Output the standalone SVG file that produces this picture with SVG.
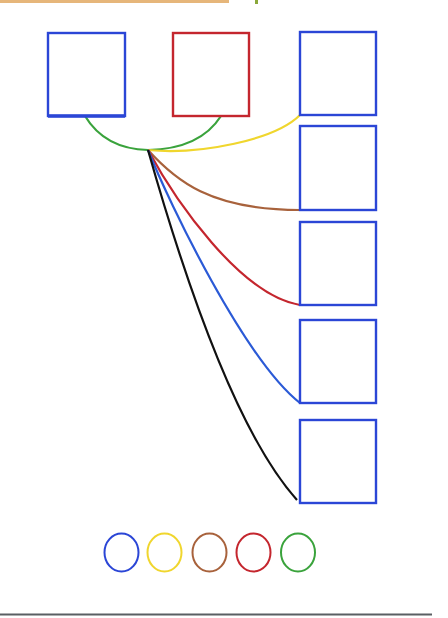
<svg xmlns="http://www.w3.org/2000/svg" width="448" height="618" viewBox="0 0 448 618">
<style>
.box{fill:none;stroke-width:2.4}
.b{stroke:#2b46d6}
.r{stroke:#c4262e}
.c{fill:none;stroke-width:2}
.w{fill:none;stroke-width:2.2}
</style>
<rect x="0" y="0" width="448" height="618" fill="#ffffff"/>
<g id="frame">
<rect x="0" y="0" width="229" height="3" fill="#e6b67a"/>
<rect x="255" y="0" width="3" height="4" fill="#8aa83a"/>
<rect x="0" y="613.5" width="432" height="2" fill="#5a5f63"/>
</g>
<g id="connectors">
<path class="w" stroke="#3aa33c" d="M85,116 Q105,149 148,150 Q200,149 221,116"/>
<path class="w" stroke="#f0d62e" d="M148,150 C200,155 275,140 300,115"/>
<path class="w" stroke="#a8623c" d="M148,150 C175,180 210,210 300,210"/>
<path class="w" stroke="#c4262e" d="M148,150 C175,200 240,295 300,305"/>
<path class="w" stroke="#2b5ad6" d="M148,150 C170,205 245,360 300,403"/>
<path class="w" stroke="#111111" d="M148,150 C165,210 225,420 297,500"/>
</g>
<g id="node-top-left"><rect class="box b" x="48" y="33" width="77" height="83"/><line x1="48" y1="116" x2="125" y2="116" stroke="#2b46d6" stroke-width="3.5"/></g>
<g id="node-top-mid"><rect class="box r" x="173" y="33" width="76" height="83"/></g>
<g id="node-r1"><rect class="box b" x="300" y="32" width="76" height="83"/></g>
<g id="node-r2"><rect class="box b" x="300" y="126" width="76" height="84"/></g>
<g id="node-r3"><rect class="box b" x="300" y="222" width="76" height="83"/></g>
<g id="node-r4"><rect class="box b" x="300" y="320" width="76" height="83"/></g>
<g id="node-r5"><rect class="box b" x="300" y="420" width="76" height="83"/></g>
<g id="legend">
<ellipse id="circle-blue" class="c" stroke="#2b46d6" cx="121.5" cy="552.5" rx="17" ry="19"/>
<ellipse id="circle-yellow" class="c" stroke="#f0d62e" cx="164.5" cy="552.5" rx="17" ry="19"/>
<ellipse id="circle-brown" class="c" stroke="#a8623c" cx="209.5" cy="552.5" rx="17" ry="19"/>
<ellipse id="circle-red" class="c" stroke="#c4262e" cx="253.5" cy="552.5" rx="17" ry="19"/>
<ellipse id="circle-green" class="c" stroke="#3aa33c" cx="298" cy="552.5" rx="17" ry="19"/>
</g>
</svg>
